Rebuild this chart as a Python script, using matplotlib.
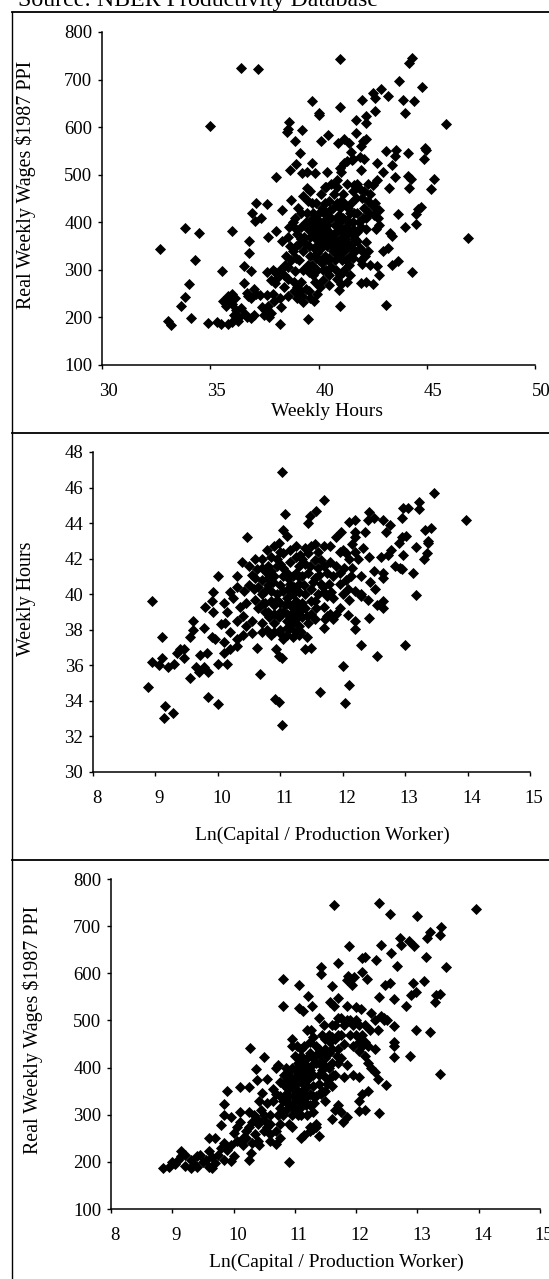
import numpy as np
from matplotlib import pyplot as plt
from matplotlib.lines import Line2D
from matplotlib.transforms import ScaledTranslation

W, H = 549, 1279

wage_by_hours = [
    (32.7,344),(33.05,192),(33.2,185),(33.65,223),(33.85,242),(34.0,271),(34.1,199),(33.85,389),(34.5,378),
    (34.3,320),(35.0,603),(34.9,188),(35.3,190),(35.5,187),(35.8,187),(35.55,298),(36.0,382),(36.4,725),(37.2,722),
    (41.0,743),(44.3,746),(44.2,734),(44.8,685),(43.7,697),(43.2,665),(42.9,681),(42.5,672),(42.6,662),(43.9,658),
    (44.4,654),(44.0,630),(45.9,607),(46.9,367),(39.7,656),(40.0,630),(40.0,625),(41.0,643),(42.0,658),(42.2,623),
    (42.2,609),(42.6,634),(41.75,616),(38.65,610),(38.55,590),(38.6,596),(39.25,594),(38.9,571),(39.15,545),
    (40.1,571),(40.45,583),(40.9,567),(41.2,576),(41.4,566),(41.75,587),(42.2,576),(42.05,570),(41.95,560),
    (41.5,548),(41.6,532),(43.1,550),(43.6,552),(43.55,539),(44.15,545),(44.9,557),(44.95,552),(44.85,534),(45.35,492),
    (45.2,469),(42.7,525),(43.4,520),(43.55,496),(44.15,497),(44.25,490),(44.2,473),(43.25,473),(43.0,506),
    (42.7,489),(42.5,478),(38.05,496),(38.7,510),(38.95,522),(39.25,503),(39.45,506),(39.7,525),(39.85,503),
    (40.4,505),(41.05,506),(40.85,489),(41.2,524),(41.55,531),(41.9,538),(42.1,534),(41.95,510),(41.65,478),
    (41.3,528),(41.0,515),(39.45,472),(39.6,465),(39.3,455),(38.75,446),(38.3,426),(37.1,440),(37.6,438),
    (36.95,420),(37.05,402),(37.35,410),(37.65,370),(38.05,382),(36.8,360),(36.8,335),(36.9,298),(36.55,308),
    (36.55,272),(36.7,252),(36.9,240),(37.0,260),(37.3,247),(37.6,248),(37.9,250),(36.0,250),(35.8,245),
    (35.6,235),(35.75,225),(36.0,228),(36.2,215),(36.1,205),(36.35,200),(36.6,208),(36.9,198),(37.0,205),(36.3,192),
    (36.0,190),(37.55,215),(37.8,210),(37.7,200),(37.4,222),(37.6,295),(37.8,278),(38.0,272),(38.2,240),(38.25,222),
    (38.2,186),(39.5,197),(41.0,225),(43.1,227),(44.3,296),(43.4,310),(43.65,318),(43.2,345),(43.0,340),(42.8,290),
    (42.7,308),(42.4,310),(42.0,312),(42.2,275),(42.5,270),(41.95,272),(41.3,275),(40.95,258),(40.5,268),(39.85,275),
    (39.95,250),(39.6,240),(39.3,232),(39.0,240),(38.85,255),(39.4,260),(39.8,235),(43.3,378),(43.4,372),(44.0,390),
    (44.5,396),(43.65,418),(44.5,418),(44.6,428),(44.75,433),(42.65,385),(42.8,395),(42.75,410),(42.8,425),(42.5,435),
    (42.2,385),(42.0,340),(41.9,345),(42.3,340),(41.8,360),(42.2,358),(41.6,325),(41.4,310),(41.0,290),(40.8,300),
    (41.1,320),(40.5,290),(40.2,300),(40.3,330),(39.7,310),(39.3,300),(38.9,298),(38.6,305),(38.2,300),(38.0,295),
    (38.5,330),(38.3,360),(38.8,400),(38.7,350),(39.2,420),(39.0,375),(39.4,400),(39.3,340),(39.6,370),(39.8,345),
    (39.9,390),(40.0,420),(40.1,365),(40.2,400),(40.3,440),(40.4,350),(40.5,380),(40.6,410),(40.7,460),(40.8,360),
    (40.9,395),(41.0,430),(41.1,370),(41.2,340),(41.3,405),(41.4,380),(41.5,440),(41.6,400),(41.7,365),(41.8,420),
    (41.9,470),(42.0,450),(42.1,430),(42.3,445),(42.4,460),(42.6,440),(42.2,410),(41.95,390),(41.3,480),(40.3,475),
    (40.6,480),(40.1,460),(39.7,440),(39.5,445),(39.05,430),(38.9,410),(39.6,330),(40.0,320),(40.5,325),(40.8,335),
    (41.2,300),(41.5,345),(40.2,278),(39.2,275),(38.6,280),(38.4,265),(40.7,375),(40.4,395),(41.0,385),(40.2,355),
    (39.85,410),(39.1,355),(38.95,325),(40.65,340),(40.0,380),(41.15,410),(41.75,450),(42.3,480),(41.8,480),
    # dense middle of the cloud
    (39.5,385),(39.7,395),(39.9,365),(40.1,345),(40.25,375),(40.35,415),(40.55,355),(40.75,395),(40.9,345),(40.95,415),
    (41.05,355),(41.25,390),(41.35,355),(41.45,420),(41.55,375),(40.15,430),(40.5,445),(40.85,440),(40.05,400),(39.75,420),
    (40.45,320),(40.75,320),(39.95,300),(39.5,310),(39.1,320),(38.8,340),(38.6,370),(39.4,355),(39.2,390),(40.65,430),
    (41.2,440),(41.65,420),(41.85,400),(42.05,410),(42.35,420),(42.55,415),(42.1,465),(41.6,465),(41.15,460),(40.85,475),
    (38.4,290),(38.85,275),(39.15,255),(39.55,255),(39.25,245),(39.75,290),(40.05,265),(40.35,300),(40.85,280),(41.15,295),
    (41.45,330),(41.7,340),(41.95,320),(42.15,330),(37.9,300),(38.15,285),(38.45,310),(36.15,240),(36.4,220),(36.7,200),
    (37.5,205),(37.65,225),(35.9,235),(36.75,245),(37.1,250),(37.95,235),(38.6,245),(39.0,265),(41.05,270),(40.35,475),
    (39.35,370),(39.55,350),(39.75,375),(39.95,335),(40.15,385),(40.3,360),(40.45,405),(40.6,370),(40.7,350),(40.85,410),
    (41.0,400),(41.1,345),(41.25,365),(41.4,400),(41.55,355),(39.65,405),(39.45,420),(39.9,440),(40.25,420),(40.55,425),
    (41.05,445),(41.35,430),(41.6,385),(41.8,380),(39.2,365),(38.95,385),(38.65,390),(39.55,295),(39.9,325),(40.15,315),
    (40.6,305),(41.25,320),(40.95,330),(38.75,320),(38.95,350),(41.45,290),(40.0,355),(40.35,385),(40.8,380),(41.2,375),
]

hours_by_capital = [
    (8.88,34.8),(8.95,39.6),(8.95,36.2),(9.05,36.0),(9.1,37.6),(9.1,36.4),(9.15,33.7),(9.13,33.05),(9.28,33.3),(9.2,35.9),
    (9.3,36.1),(9.35,36.7),(9.4,36.9),(9.45,36.9),(9.45,36.4),(9.55,35.3),(9.55,37.6),(9.6,38.0),(9.6,38.5),(9.65,35.9),
    (9.7,35.6),(9.72,36.6),(9.78,35.9),(9.85,35.6),(9.82,36.7),(9.78,38.1),(9.85,34.2),(9.8,39.3),(9.9,39.6),(9.92,39.0),
    (9.9,37.6),(9.95,37.5),(9.92,40.1),(10.0,36.1),(10.0,33.8),(10.0,41.0),(10.15,36.1),(10.1,36.7),(10.2,36.9),(10.3,37.1),
    (10.1,39.5),(10.15,39.0),(10.12,38.4),(10.2,37.9),(10.3,37.5),(10.4,37.7),(10.2,40.1),(10.3,41.0),(10.3,40.4),(10.38,41.8),
    (10.47,43.2),(10.5,40.5),(10.55,41.1),(10.6,42.0),(10.7,41.5),(10.63,37.0),(10.7,37.9),(10.7,38.4),(10.68,35.5),(10.4,38.8),
    (10.45,39.5),(10.6,39.7),(10.75,39.5),(10.8,40.5),(10.85,41.3),(10.78,42.5),(10.9,42.7),(10.98,42.9),(11.05,43.6),(11.1,43.3),
    (11.08,44.5),(11.02,46.9),(10.93,36.9),(10.98,36.5),(11.02,36.4),(10.92,34.1),(10.98,33.95),(11.02,32.65),(11.05,37.5),(11.2,37.6),
    (11.3,37.7),(11.0,38.0),(11.1,38.5),(11.05,39.0),(11.0,39.5),(10.95,40.0),(11.0,40.5),(10.9,41.0),(11.0,41.7),(11.15,42.5),
    (11.2,41.0),(11.2,40.0),(11.2,39.0),(11.3,38.2),(11.35,39.5),(11.3,40.6),(11.3,41.6),(11.25,42.7),(11.4,42.6),(11.45,41.2),
    (11.5,40.3),(11.5,38.9),(11.45,38.4),(11.4,36.9),(11.5,36.95),(11.45,44.0),(11.48,44.4),(11.58,44.7),(11.7,45.3),(11.63,34.5),
    (11.55,42.8),(11.6,41.5),(11.65,40.6),(11.7,39.3),(11.7,38.1),(11.75,38.8),(11.7,42.7),(11.8,42.7),(11.85,41.0),(11.85,39.8),
    (11.85,38.6),(11.95,39.2),(11.95,40.6),(11.9,43.2),(11.97,43.5),(12.0,42.5),(12.02,41.5),(12.0,35.95),(12.03,33.9),(12.1,34.9),
    (12.08,38.85),(12.1,39.7),(12.2,40.2),(12.2,38.5),(12.2,38.05),(12.15,41.5),(12.2,42.4),(12.1,44.05),(12.2,44.2),(12.2,43.5),
    (12.2,43.2),(12.3,40.0),(12.3,37.15),(12.3,41.0),(12.33,42.6),(12.35,43.5),(12.4,44.2),(12.4,39.7),(12.42,38.65),(12.43,40.7),
    (12.42,42.1),(12.42,44.65),(12.5,44.3),(12.5,41.3),(12.52,40.3),(12.55,39.4),(12.55,36.5),(12.65,44.2),(12.62,42.1),(12.72,42.2),
    (12.65,41.2),(12.65,40.9),(12.65,39.6),(12.65,39.2),(12.7,43.5),(12.78,42.5),(12.75,43.9),(12.83,41.6),(12.92,41.5),(12.9,42.9),
    (12.95,43.2),(12.95,44.3),(12.97,44.85),(12.95,41.4),(12.97,42.2),(13.02,43.3),(13.0,37.15),(13.05,44.85),(13.13,41.2),(13.17,39.95),
    (13.17,42.65),(13.22,44.8),(13.22,45.2),(13.3,42.0),(13.32,43.6),(13.35,42.3),(13.42,43.7),(13.37,43.0),(13.37,42.9),(13.47,45.7),
    (13.97,44.2),(10.25,39.8),(10.3,38.5),(10.42,40.2),(10.55,38.5),(10.65,40.4),(10.7,40.8),(10.8,39.0),(10.85,37.7),(10.9,38.9),
    (10.95,42.0),(11.1,41.2),(11.12,40.3),(11.1,37.7),(11.25,38.6),(11.4,40.0),(11.55,41.9),(11.75,41.2),(11.9,38.9),(12.0,40.0),
    (12.08,40.3),(12.13,41.0),(12.05,42.3),(12.3,39.9),(11.05,42.3),(11.35,42.0),(10.75,40.2),(10.85,39.6),(11.1,39.8),(11.3,39.0),
    (11.15,38.1),(11.55,39.6),(11.6,42.4),(11.95,42.4),(12.25,42.0),(10.05,38.3),(10.1,37.3),(10.35,39.3),(10.55,37.8),(10.78,41.2),
    # dense middle of the cloud
    (10.7,40.0),(10.75,39.0),(10.8,40.9),(10.85,40.2),(10.9,39.4),(10.9,38.4),(10.95,41.6),(11.0,39.0),(11.05,40.2),(11.05,41.0),
    (11.1,38.9),(11.15,39.4),(11.15,40.6),(11.15,41.8),(11.2,38.4),(11.25,39.6),(11.25,41.2),(11.25,42.1),(11.3,40.1),(11.35,41.0),
    (11.35,38.7),(11.4,39.2),(11.4,41.7),(11.45,42.3),(11.5,39.6),(11.55,40.9),(11.55,38.6),(11.6,40.0),(11.65,41.9),(11.7,40.1),
    (11.7,41.6),(11.75,39.9),(11.8,41.8),(11.8,38.9),(11.9,41.6),(11.95,41.2),(10.6,40.9),(10.65,39.2),(10.5,41.6),(10.45,38.2),
    (11.0,37.8),(11.1,38.1),(11.25,37.9),(11.0,42.4),(10.85,42.1),(10.7,42.0),(11.5,42.7),(12.05,40.8),(12.1,42.0),(12.15,42.8),
    (10.8,41.6),(10.88,40.7),(10.95,39.7),(10.98,38.7),(11.05,41.5),(11.08,39.4),(11.12,40.9),(11.18,38.7),(11.22,40.4),(11.28,41.0),
    (11.28,39.3),(11.32,42.2),(11.38,40.5),(11.42,38.8),(11.48,41.6),(11.52,40.7),(11.58,39.2),(11.62,41.1),(11.68,40.4),(11.72,38.6),
    (11.78,40.6),(11.82,40.1),(10.58,40.3),(10.62,41.4),(10.72,39.5),(10.78,38.0),(10.82,38.7),(10.9,37.9),(11.33,37.9),(11.42,37.6),
]

wage_by_capital = [
    (8.85,188),(8.95,190),(9.05,195),(9.1,205),(9.15,222),(9.15,212),(9.2,192),(9.3,186),(9.35,195),(9.3,205),
    (9.4,212),(9.45,214),(9.6,190),(9.65,186),(9.7,198),(9.6,222),(9.65,210),(9.6,250),(9.7,250),(9.8,278),
    (9.85,300),(9.85,322),(9.89,351),(9.95,295),(9.85,240),(9.9,225),(9.95,202),(10.0,212),(10.0,262),(10.1,285),
    (10.15,250),(10.1,358),(10.25,358),(10.25,305),(10.25,203),(10.28,218),(10.3,240),(10.33,300),(10.27,441),(10.37,397),
    (10.38,374),(10.38,290),(10.42,235),(10.5,288),(10.47,346),(10.5,422),(10.55,275),(10.6,245),(10.7,237),(10.75,250),
    (10.75,280),(10.7,400),(10.72,405),(10.75,370),(10.8,530),(10.8,588),(10.85,370),(10.85,310),(10.9,340),(10.91,199),
    (10.95,275),(10.95,400),(10.95,460),(10.95,445),(11.07,576),(11.07,526),(11.0,395),(11.0,350),(11.05,300),(11.1,250),
    (11.13,519),(11.15,258),(11.25,275),(11.3,270),(11.21,552),(11.28,530),(11.1,440),(11.15,410),(11.1,370),(11.15,330),
    (11.2,300),(11.2,480),(11.25,455),(11.3,420),(11.3,360),(11.3,305),(11.4,255),(11.35,275),(11.4,505),(11.43,599),
    (11.43,613),(11.55,470),(11.5,440),(11.45,395),(11.5,330),(11.5,350),(11.61,572),(11.64,745),(11.58,540),(11.64,530),
    (11.7,547),(11.7,622),(11.6,290),(11.65,310),(11.7,320),(11.75,305),(11.78,285),(11.85,295),(11.6,360),(11.7,410),
    (11.7,505),(11.6,490),(11.7,470),(11.8,380),(11.85,405),(11.85,530),(11.9,500),(11.85,585),(11.87,595),(11.88,657),
    (11.93,576),(11.97,592),(12.0,528),(12.05,380),(12.05,490),(12.08,525),(12.05,330),(12.1,345),(12.15,634),(12.1,602),
    (12.1,632),(12.15,310),(12.2,350),(12.05,308),(12.18,588),(12.25,515),(12.2,445),(12.15,425),(12.3,440),(12.3,390),
    (12.35,375),(12.35,480),(12.33,629),(12.37,749),(12.4,659),(12.37,549),(12.37,303),(12.49,363),(12.47,576),(12.5,500),
    (12.45,505),(12.55,579),(12.55,726),(12.57,644),(12.61,545),(12.61,455),(12.61,445),(12.61,422),(12.61,488),(12.67,615),
    (12.71,675),(12.86,668),(12.95,658),(12.74,661),(12.82,530),(12.9,554),(12.88,425),(12.93,579),(12.98,561),(12.98,480),
    (13.0,721),(13.1,583),(13.14,634),(13.15,675),(13.2,687),(13.2,475),(13.38,698),(13.37,682),(13.28,540),(13.3,554),
    (13.37,557),(13.37,386),(13.47,613),(13.95,736),(9.8,230),(10.05,245),(10.2,265),(10.35,260),(10.45,310),(10.6,300),
    (10.65,330),(10.75,340),(10.8,300),(10.85,400),(10.9,360),(10.95,320),(11.0,425),(11.05,350),(11.1,395),(11.15,355),
    (11.2,420),(11.25,395),(11.3,340),(11.35,445),(11.4,410),(11.4,365),(11.45,470),(11.5,420),(11.55,400),(11.6,440),
    (11.65,460),(11.7,440),(11.8,450),(11.95,445),(12.0,500),(12.1,445),(12.15,490),(12.3,500),(12.4,510),(12.45,500),
    (12.05,435),(11.8,490),(10.6,260),(10.3,285),(10.55,375),(10.9,280),(11.25,320),(11.0,330),(10.85,330),(11.1,320),
    # dense middle of the band
    (10.7,345),(10.75,315),(10.8,365),(10.85,345),(10.9,385),(10.9,320),(10.95,360),(10.95,300),(11.0,375),(11.0,310),
    (11.05,410),(11.05,330),(11.05,385),(11.1,345),(11.1,425),(11.1,300),(11.15,380),(11.15,445),(11.2,340),(11.2,395),
    (11.2,360),(11.25,430),(11.25,345),(11.3,385),(11.3,465),(11.35,410),(11.35,340),(11.4,385),(11.4,440),(11.45,350),
    (11.45,425),(11.5,460),(11.5,380),(11.55,430),(11.55,375),(11.6,410),(11.6,465),(11.65,385),(11.65,490),(11.75,470),
    (11.75,505),(11.85,500),(11.95,490),(12.0,470),(12.1,470),(12.15,455),(12.2,410),(12.25,400),(10.4,280),(10.5,265),
    (10.25,275),(10.4,245),(10.15,235),(10.05,275),(9.95,235),(9.75,215),(9.85,205),(9.5,200),(9.2,215),(9.0,200),
    (9.4,190),(9.55,205),(10.1,305),(10.5,300),(10.7,265),(10.6,280),(10.2,250),(11.35,280),(11.25,265),(11.95,385),
    (10.8,330),(10.88,355),(10.92,375),(10.98,340),(11.02,365),(11.08,315),(11.12,405),(11.18,320),(11.22,375),(11.28,405),
    (11.32,325),(11.38,430),(11.42,345),(11.48,405),(11.52,365),(11.58,455),(11.62,385),(11.68,425),(10.82,385),(11.03,445),
    (11.27,480),(11.48,490),(11.75,420),(11.9,470),(12.05,455),(12.22,480),(10.65,355),(10.72,300),(10.55,325),(10.42,330),
]

hour_ticks = [30, 35, 40, 45, 50]
wage_ticks = [100, 200, 300, 400, 500, 600, 700, 800]
capital_ticks = [8, 9, 10, 11, 12, 13, 14, 15]
weekly_ticks = [30, 32, 34, 36, 38, 40, 42, 44, 46, 48]

plt.rcParams['font.family'] = ['Liberation Serif']
plt.rcParams['font.size'] = 13.5


def panel(fig, box, points, xticks, yticks, xlabel, ylabel, xlab_pos, ylab_pos, shift):
    # box is left, top, right, bottom of the plot area in image pixels
    left, top, right, bottom = box
    ax = fig.add_axes([left / W, 1 - bottom / H, (right - left) / W, (bottom - top) / H])
    pts = np.array(points)
    ax.scatter(pts[:, 0], pts[:, 1], marker='D', s=32, c='black', linewidths=0, clip_on=False)
    ax.set_xlim(xticks[0], xticks[-1])
    ax.set_ylim(yticks[0], yticks[-1])
    ax.set_xticks(xticks)
    ax.set_yticks(yticks)
    ax.spines['top'].set_visible(False)
    ax.spines['right'].set_visible(False)
    ax.spines['left'].set_linewidth(1.1)
    ax.spines['bottom'].set_linewidth(1.1)
    ax.tick_params(length=3, width=1, pad=4)
    ax.tick_params(axis='x', pad=10)
    # the x numbers sit a little right of their ticks in the original
    for lab in ax.get_xticklabels():
        lab.set_transform(lab.get_transform() + ScaledTranslation(shift / 100, 0, fig.dpi_scale_trans))
    fig.text(xlab_pos[0] / W, 1 - xlab_pos[1] / H, xlabel, ha='center', va='center', fontsize=14)
    fig.text(ylab_pos[0] / W, 1 - ylab_pos[1] / H, ylabel, rotation=90, ha='center', va='center', fontsize=14.4)
    return ax


def main():
    fig = plt.figure(figsize=(W / 100, H / 100), dpi=100)

    panel(fig, (102, 32, 535, 365), wage_by_hours, hour_ticks, wage_ticks,
          'Weekly Hours', 'Real Weekly Wages $1987 PPI', (327, 411), (26, 185), 6)
    panel(fig, (93, 452, 530, 772), hours_by_capital, capital_ticks, weekly_ticks,
          'Ln(Capital / Production Worker)', 'Weekly Hours', (322, 835), (26, 599), 4)
    panel(fig, (111, 879, 540, 1209), wage_by_capital, capital_ticks, wage_ticks,
          'Ln(Capital / Production Worker)', 'Real Weekly Wages $1987 PPI', (336, 1262), (33, 1030), 4)

    # page frame around the panels
    for y in [12, 433, 860]:
        fig.add_artist(Line2D([12 / W, 1], [1 - y / H, 1 - y / H], color='black', lw=1.3))
    fig.add_artist(Line2D([12 / W, 12 / W], [0, 1 - 12 / H], color='black', lw=1))

    fig.text(18 / W, 1 - 6 / H, 'Source: NBER Productivity Database', ha='left', va='baseline', fontsize=17.2)

    fig.savefig('out.png', dpi=100)
    return 0


if __name__ == '__main__':
    main()
